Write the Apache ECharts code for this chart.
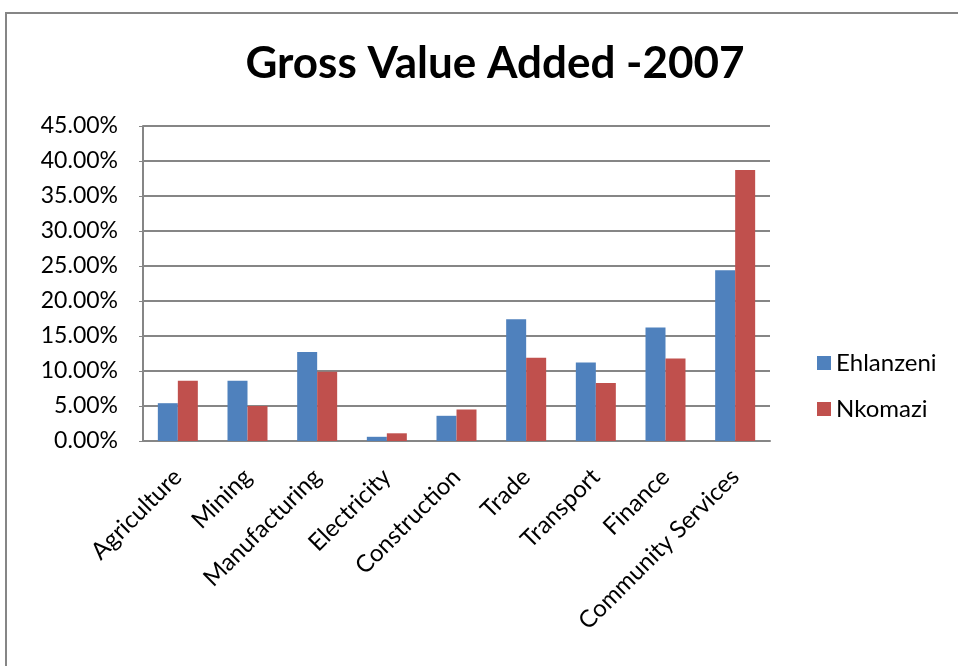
<!DOCTYPE html>
<html>
<head>
<meta charset="utf-8">
<script src="https://cdn.jsdelivr.net/npm/echarts@6/dist/echarts.min.js"></script>
<style>
  html, body { margin: 0; padding: 0; background: #fff; }
  #main { width: 958px; height: 666px; }
</style>
</head>
<body>
<div id="main"></div>
<script>
// sectors on the x axis
const categories = ['Agriculture', 'Mining', 'Manufacturing', 'Electricity', 'Construction',
  'Trade', 'Transport', 'Finance', 'Community Services'];
// share of gross value added, in percent
const ehlanzeni = [5.4, 8.6, 12.7, 0.6, 3.6, 17.4, 11.2, 16.2, 24.4];
const nkomazi = [8.6, 5.0, 9.9, 1.1, 4.5, 11.9, 8.3, 11.8, 38.7];

const chart = echarts.init(document.getElementById('main'));
const font = 'Lato, "Open Sans", sans-serif';

const option = {
  animation: false,
  color: ['#4F81BD', '#C0504D'],
  title: {
    text: 'Gross Value Added -2007',
    left: 490,
    top: 37,
    textAlign: 'center',
    textStyle: { fontFamily: font, fontSize: 44, fontWeight: 'bold', color: '#000' }
  },
  legend: {
    orient: 'vertical',
    left: 812,
    top: 346,
    itemWidth: 14,
    itemHeight: 14,
    itemGap: 22,
    icon: 'rect',
    textStyle: { fontFamily: font, fontSize: 24, color: '#000' },
    data: ['Ehlanzeni', 'Nkomazi']
  },
  grid: { left: 143, right: 188, top: 126, bottom: 225 },
  xAxis: {
    type: 'category',
    data: categories,
    axisTick: { show: false },
    axisLine: { lineStyle: { color: '#868686', width: 2 } },
    axisLabel: {
      rotate: 45,
      interval: 0,
      margin: 32,
      fontFamily: font,
      fontSize: 24,
      color: '#000'
    }
  },
  yAxis: {
    type: 'value',
    min: 0,
    max: 45,
    interval: 5,
    axisLine: { show: true, lineStyle: { color: '#868686', width: 2 } },
    axisTick: { show: true, length: 4, lineStyle: { color: '#868686' } },
    splitLine: { lineStyle: { color: '#868686', width: 2 } },
    axisLabel: {
      margin: 25,
      fontFamily: font,
      fontSize: 23,
      color: '#000',
      formatter: v => v.toFixed(2) + '%'
    }
  },
  graphic: [{
    type: 'rect',
    shape: { x: 6, y: 13, width: 1000, height: 800 },
    style: { fill: 'none', stroke: '#868686', lineWidth: 2 },
    silent: true
  }],
  series: [
    { name: 'Ehlanzeni', type: 'bar', data: ehlanzeni, barWidth: 20, barGap: '0%' },
    { name: 'Nkomazi', type: 'bar', data: nkomazi, barWidth: 20, barGap: '0%' }
  ]
};

chart.setOption(option);
</script>
</body>
</html>
